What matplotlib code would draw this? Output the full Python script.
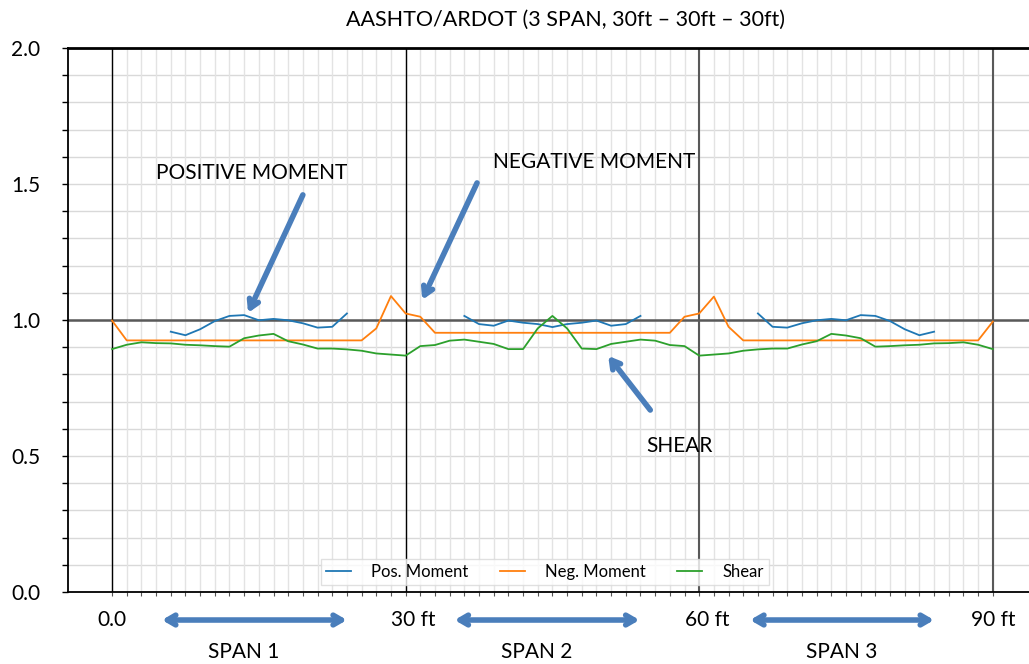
import numpy as np
import matplotlib.pyplot as plt

plt.rcParams['font.family'] = ['Lato', 'DejaVu Sans']

# stations every 1.5 ft along 3 spans of 30 ft
station = np.arange(0, 90.01, 1.5)

nan = np.nan
pos_moment = [
    nan, nan, nan, nan, 0.957, 0.944, 0.966, 0.996, 1.015, 1.018,
    0.999, 1.004, 0.999, 0.988, 0.972, 0.975, 1.024, nan, nan, nan,
    nan, nan, nan, nan, 1.015, 0.985, 0.979, 0.998, 0.990, 0.985,
    0.974, 0.985, 0.990, 0.998, 0.979, 0.985, 1.015, nan, nan, nan,
    nan, nan, nan, nan, 1.024, 0.975, 0.972, 0.988, 0.999, 1.004,
    0.999, 1.018, 1.015, 0.996, 0.966, 0.944, 0.957, nan, nan, nan,
    nan,
]
neg_moment = [
    0.998, 0.925, 0.925, 0.925, 0.925, 0.925, 0.925, 0.925, 0.925, 0.925,
    0.925, 0.925, 0.925, 0.925, 0.925, 0.925, 0.925, 0.925, 0.969, 1.088,
    1.024, 1.012, 0.953, 0.953, 0.953, 0.953, 0.953, 0.953, 0.953, 0.953,
    0.953, 0.953, 0.953, 0.953, 0.953, 0.953, 0.953, 0.953, 0.953, 1.012,
    1.024, 1.086, 0.975, 0.925, 0.925, 0.925, 0.925, 0.925, 0.925, 0.925,
    0.925, 0.925, 0.925, 0.925, 0.925, 0.925, 0.925, 0.925, 0.925, 0.925,
    0.994,
]
shear = [
    0.893, 0.909, 0.918, 0.915, 0.914, 0.909, 0.907, 0.904, 0.902, 0.933,
    0.943, 0.949, 0.922, 0.910, 0.895, 0.895, 0.892, 0.887, 0.877, 0.873,
    0.869, 0.904, 0.908, 0.924, 0.928, 0.920, 0.912, 0.893, 0.893, 0.969,
    1.015, 0.969, 0.895, 0.893, 0.912, 0.920, 0.928, 0.924, 0.908, 0.904,
    0.869, 0.873, 0.877, 0.887, 0.892, 0.895, 0.895, 0.910, 0.922, 0.949,
    0.943, 0.933, 0.902, 0.904, 0.907, 0.909, 0.914, 0.915, 0.918, 0.909,
    0.893,
]

support_labels = ["0.0", "30 ft", "60 ft", "90 ft"]
support_pos = [0, 30.8, 60.8, 90]
span_labels = ["SPAN 1", "SPAN 2", "SPAN 3"]
span_label_pos = [13.5, 43.4, 74.6]
span_arrow = [(5.1, 24.0), (35.0, 53.9), (65.2, 84.0)]

arrow_blue = "#4a7ebb"

fig = plt.figure(figsize=(10.29, 6.64), dpi=100)
ax = fig.add_axes([68 / 1029, 72 / 664, 961 / 1029, 544 / 664])
ax.set_xlim(-4.5, 93.7)
ax.set_ylim(0, 2.0)

# grid
for yv in np.arange(0.1, 2.0, 0.1):
    ax.axhline(yv, color="#d9d9d9", lw=1.0, zorder=0)
ax.axhline(1.0, color="#595959", lw=1.8, zorder=1)
for xv in station:
    ax.axvline(xv, color="#e3e3e3", lw=1.0, zorder=0)
ax.axvline(0, color="black", lw=1.0, zorder=1)
ax.axvline(30, color="black", lw=1.0, zorder=1)
ax.axvline(60, color="#595959", lw=1.5, zorder=1)
ax.axvline(90, color="#595959", lw=1.5, zorder=1)

ax.plot(station, pos_moment, color="#1f77b4", lw=1.3, label="Pos. Moment", zorder=3)
ax.plot(station, neg_moment, color="#ff7f0e", lw=1.3, label="Neg. Moment", zorder=3)
ax.plot(station, shear, color="#2ca02c", lw=1.3, label="Shear", zorder=3)

# spines / ticks
ax.spines["right"].set_visible(False)
ax.spines["top"].set_linewidth(2.0)
ax.spines["left"].set_linewidth(1.3)
ax.spines["bottom"].set_linewidth(1.3)
ax.set_yticks(np.arange(0, 2.01, 0.5))
ax.set_yticklabels([f"{v:.1f}" for v in np.arange(0, 2.01, 0.5)])
ax.set_yticks(np.arange(0, 2.01, 0.1), minor=True)
ax.tick_params(axis="y", which="both", direction="out", length=4, width=1, pad=16, labelsize=15)
ax.set_xticks(station)
ax.set_xticklabels([])
ax.tick_params(axis="x", direction="out", length=3, width=0.8, colors="#555555")

# title
fig.text(0.550, 0.970, "AASHTO/ARDOT (3 SPAN, 30ft \u2013 30ft \u2013 30ft)",
         ha="center", va="center", fontsize=15.5)

# annotations
akw = dict(arrowstyle="->,head_length=0.6,head_width=0.35", color=arrow_blue, lw=4,
           shrinkA=0, shrinkB=0)
ax.text(14.3, 1.540, "POSITIVE MOMENT", ha="center", va="center", fontsize=15)
ax.annotate("", xy=(13.9, 1.026), xytext=(19.5, 1.46), arrowprops=akw)
ax.text(49.3, 1.581, "NEGATIVE MOMENT", ha="center", va="center", fontsize=15)
ax.annotate("", xy=(31.7, 1.074), xytext=(37.3, 1.504), arrowprops=akw)
ax.text(58.0, 0.537, "SHEAR", ha="center", va="center", fontsize=15)
ax.annotate("", xy=(50.7, 0.868), xytext=(55.0, 0.669), arrowprops=akw)

# support labels and span arrows below the axis
trans = ax.get_xaxis_transform()
for lab, xp in zip(support_labels, support_pos):
    ax.text(xp, -0.0515, lab, transform=trans, ha="center", va="center", fontsize=15)
bkw = dict(arrowstyle="<->,head_length=0.6,head_width=0.35", color=arrow_blue, lw=4,
           shrinkA=0, shrinkB=0)
for (x0, x1), lab, xp in zip(span_arrow, span_labels, span_label_pos):
    ax.annotate("", xy=(x1, -0.0515), xytext=(x0, -0.0515), xycoords=trans,
                textcoords=trans, arrowprops=bkw, annotation_clip=False)
    ax.text(xp, -0.11, lab, transform=trans, ha="center", va="center", fontsize=15)

leg = ax.legend(loc="center", bbox_to_anchor=(0.496, 0.037), ncol=3, frameon=True,
                fontsize=12, handlelength=1.5, handletextpad=1.2, columnspacing=1.9,
                borderpad=0.3, fancybox=False, edgecolor="#d9d9d9")
leg.get_frame().set_linewidth(1.0)

fig.savefig("out.png", dpi=100)
